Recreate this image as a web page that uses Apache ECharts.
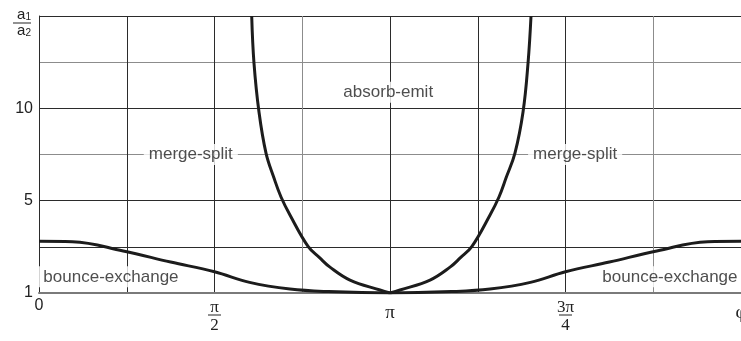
<!DOCTYPE html>
<html>
<head>
<meta charset="utf-8">
<script src="https://cdn.jsdelivr.net/npm/echarts@6/dist/echarts.min.js"></script>
<style>
  html, body { margin: 0; padding: 0; background: #fff; }
  #echart-box { width: 741px; height: 341px; }
</style>
</head>
<body>
<div id="echart-box"></div>
<script>
// x in units of pi/4 (0 .. 2pi), y in grid steps of the a1/a2 axis
const phiTickText = ["0", "", "π/2", "", "π", "", "3π/4", "", "φ"];
const ratioTickPos = [0, 2, 4];
const ratioTickText = ["1", "5", "10"];

const bouncePhi = [0, 0.38, 0.96, 1.5, 2.0, 2.4, 2.86, 3.3, 4.0, 4.7, 5.14, 5.6, 6.0, 6.5, 7.04, 7.62, 8];
const bounceRatio = [1.12, 1.11, 0.91, 0.67, 0.46, 0.23, 0.085, 0.03, 0, 0.03, 0.085, 0.23, 0.46, 0.67, 0.91, 1.11, 1.12];

const absorbLeftPhi = [2.424, 2.45, 2.507, 2.587, 2.678, 2.758, 2.86, 3.066, 3.2, 3.316, 3.544, 3.886, 4.0];
const absorbLeftRatio = [6, 4.98, 3.92, 3.03, 2.49, 2.08, 1.69, 1.01, 0.76, 0.56, 0.28, 0.065, 0];
const absorbRightPhi = [4.0, 4.114, 4.456, 4.684, 4.8, 4.934, 5.14, 5.242, 5.322, 5.424, 5.516, 5.573, 5.607];
const absorbRightRatio = [0, 0.065, 0.28, 0.56, 0.76, 1.01, 1.69, 2.08, 2.49, 3.03, 3.92, 4.98, 6];

const noteText = ["merge-split", "absorb-emit", "merge-split", "bounce-exchange", "bounce-exchange"];
const notePhi = [1.73, 3.98, 6.11, 0.82, 7.19];
const noteRatio = [3.0, 4.35, 3.0, 0.35, 0.35];

function init(){
    const element = document.getElementById("echart-box");
    const instance = echarts.init(element);

    const dark = "#2b2b2b";
    const grey = "#8c8c8c";
    const curve = "#1c1c1c";

    function pairs(xs, ys){
        return xs.map((x, i) => [x, ys[i]]);
    }

    let option = {
        animation: false,
        grid: { left: 39, right: 0, top: 16, bottom: 48, outerBoundsMode: "none" },
        xAxis: {
            type: "value",
            min: 0,
            max: 8,
            interval: 1,
            axisLine: { show: true, lineStyle: { color: "#7a7a7a", width: 2 } },
            axisTick: { show: false },
            splitLine: {
                show: true,
                lineStyle: { color: [dark, dark, dark, grey, dark, dark, dark, grey, dark], width: 1 }
            },
            axisLabel: {
                showMinLabel: true,
                showMaxLabel: true,
                margin: 5,
                formatter: function(v){
                    const t = phiTickText[Math.round(v)];
                    if(!t) return "";
                    if(t.indexOf("/") > 0){
                        const p = t.split("/");
                        return "{n|" + p[0] + "}\n{b| }\n{d|" + p[1] + "}";
                    }
                    if(t === "0") return "{z|0}";
                    return "{p|" + t + "}";
                },
                rich: {
                    z: { fontFamily: "Liberation Sans", fontSize: 16, color: "#222" },
                    p: { fontFamily: "Liberation Serif", fontSize: 19, color: "#222", padding: [6, 0, 0, 0] },
                    n: { fontFamily: "Liberation Serif", fontSize: 17, color: "#222", lineHeight: 15, padding: [5, 0, 0, 0] },
                    b: { width: 13, height: 1, lineHeight: 4, fontSize: 1, backgroundColor: "#222" },
                    d: { fontFamily: "Liberation Serif", fontSize: 17, color: "#222", lineHeight: 17 }
                }
            }
        },
        yAxis: {
            type: "value",
            min: 0,
            max: 6,
            interval: 1,
            name: "{a|a}{s|1}\n{b| }\n{a|a}{s|2}",
            nameLocation: "end",
            nameGap: -7,
            nameTextStyle: {
                align: "right",
                verticalAlign: "middle",
                padding: [0, 8, 0, 0],
                rich: {
                    a: { fontFamily: "Liberation Sans", fontSize: 15, color: "#222", lineHeight: 13 },
                    s: { fontFamily: "Liberation Sans", fontSize: 10, color: "#222", lineHeight: 13, padding: [4, 0, 0, 0] },
                    b: { width: 18, height: 1, lineHeight: 3, fontSize: 1, backgroundColor: "#222" }
                }
            },
            axisLine: { show: true, lineStyle: { color: dark, width: 1 } },
            axisTick: { show: false },
            splitLine: {
                show: true,
                lineStyle: { color: [dark, dark, dark, grey, dark, grey, dark], width: 1 }
            },
            axisLabel: {
                margin: 6,
                fontFamily: "Liberation Sans",
                fontSize: 16,
                color: "#222",
                formatter: function(v){
                    const i = ratioTickPos.indexOf(Math.round(v));
                    return i >= 0 ? ratioTickText[i] : "";
                }
            }
        },
        series: [
            {
                name: "bounce-exchange",
                type: "line",
                data: pairs(bouncePhi, bounceRatio),
                smooth: 0.4,
                symbol: "none",
                lineStyle: { color: curve, width: 3 },
                z: 3
            },
            {
                name: "absorb-emit left",
                type: "line",
                data: pairs(absorbLeftPhi, absorbLeftRatio),
                smooth: 0.4,
                symbol: "none",
                lineStyle: { color: curve, width: 3 },
                z: 3
            },
            {
                name: "absorb-emit right",
                type: "line",
                data: pairs(absorbRightPhi, absorbRightRatio),
                smooth: 0.4,
                symbol: "none",
                lineStyle: { color: curve, width: 3 },
                z: 3
            },
            {
                // region names, white box hides the grid behind them
                type: "scatter",
                symbolSize: 0,
                silent: true,
                data: notePhi.map((x, i) => ({ value: [x, noteRatio[i]], name: noteText[i] })),
                label: {
                    show: true,
                    position: "inside",
                    formatter: "{b}",
                    fontFamily: "Liberation Sans",
                    fontSize: 17,
                    color: "#222",
                    backgroundColor: "#fff",
                    padding: [2, 5]
                },
                z: 2
            }
        ]
    };

    instance && instance.setOption(option);

    window.onresize = function(){
        instance.resize();
    };
}
init();
</script>
</body>
</html>
